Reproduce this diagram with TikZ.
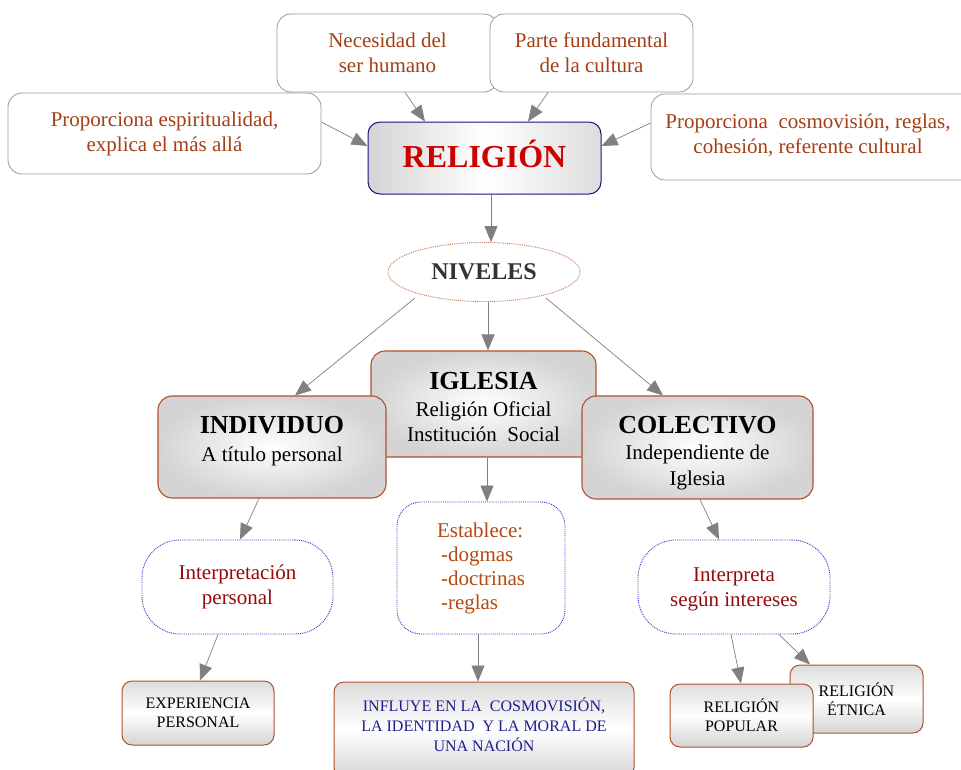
\documentclass[tikz,border=0pt]{standalone}
\usepackage{fontspec}
\setmainfont{Liberation Serif}
\usetikzlibrary{arrows.meta,shapes.geometric}

\definecolor{rust}{RGB}{165,62,20}
\definecolor{relred}{RGB}{204,0,0}
\definecolor{darkred}{RGB}{150,10,10}
\definecolor{orangebrown}{RGB}{178,74,18}
\definecolor{navytext}{RGB}{30,30,140}
\definecolor{navyline}{RGB}{20,20,130}
\definecolor{boxbrown}{RGB}{176,82,40}
\definecolor{dotblue}{RGB}{55,55,195}
\definecolor{arrowgray}{RGB}{128,128,128}
\definecolor{shadegray}{RGB}{212,212,212}

\newcommand{\fsz}[2]{\fontsize{#1}{#2}\selectfont}

\tikzset{
  topbox/.style={draw=gray!80, line width=0.8pt, rounded corners=14pt, fill=white,
    inner sep=0pt, align=center, text=rust, font=\fsz{21}{25}},
  mainbox/.style={draw=navyline, line width=1pt, rounded corners=12pt,
    left color=shadegray, right color=shadegray!80, middle color=white, inner sep=0pt},
  levelbox/.style={draw=boxbrown, line width=1.1pt, rounded corners=14pt,
    inner color=white, outer color=shadegray, inner sep=0pt},
  dotbox/.style={draw=dotblue, densely dotted, line width=0.9pt, inner sep=0pt,
    fill=white, align=center, font=\fsz{21}{25}},
  smallbox/.style={draw=boxbrown, line width=1pt, rounded corners=10pt,
    top color=shadegray!80, bottom color=shadegray, middle color=white,
    inner sep=0pt, align=center, font=\fsz{16}{19}},
  boxtext/.style={inner sep=0pt, align=center, font=\fsz{21}{25}},
  arr/.style={draw=arrowgray, line width=0.7pt,
    -{Triangle[length=16pt,width=13pt,fill=arrowgray]}},
  head/.style={font=\bfseries\fsz{26}{30}}
}

\begin{document}
\begin{tikzpicture}[x=1pt,y=-1pt]
\clip (0,0) rectangle (961,769);
\fill[white] (0,0) rectangle (961,769);

% top row of feeding ideas
\node[topbox, minimum width=221pt, minimum height=78pt] (nec) at (387.5,53)
  {Necesidad del\\ser humano};
\node[topbox, minimum width=203pt, minimum height=78pt] (parte) at (591.5,53)
  {Parte fundamental\\de la cultura};
\node[topbox, minimum width=313pt, minimum height=81pt] (espi) at (164.5,133.5)
  {Proporciona espiritualidad,\\explica el más allá};
\node[topbox, minimum width=339pt, minimum height=86pt] (cosmo) at (820.5,137) {};
\node[boxtext, text=rust] (cosmoT) at (808,135)
  {Proporciona\ \ cosmovisión, reglas,\\cohesión, referente cultural};

% central concept
\node[mainbox, minimum width=233pt, minimum height=72pt] (rel) at (484.5,158) {};
\node[inner sep=0pt, text=relred, font=\bfseries\fsz{32}{36}] (relT) at (484.5,154) {RELIGIÓN};

% levels
\node[ellipse, draw=boxbrown!80, densely dotted, line width=0.9pt, fill=white,
  minimum width=192pt, minimum height=59pt, inner sep=0pt,
  text=black!80, font=\bfseries\fsz{24}{28}] (niv) at (484,272) {NIVELES};

\node[levelbox, minimum width=225pt, minimum height=106pt] (igl) at (483.5,404) {};
\node[boxtext] (iglT) at (483.5,406.5)
  {{\bfseries\fsz{26}{29}IGLESIA}\\[2pt]Religión Oficial\\Institución\ \ Social};
\node[levelbox, minimum width=228pt, minimum height=102pt] (ind) at (272,447) {};
\node[boxtext] (indT) at (272,441.5)
  {{\bfseries\fsz{26}{29}INDIVIDUO}\\[3pt]A título personal};
\node[levelbox, minimum width=231pt, minimum height=103pt] (col) at (697.5,447.5) {};
\node[boxtext] (colT) at (697.5,453)
  {{\bfseries\fsz{26}{29}COLECTIVO}\\[1pt]Independiente de\\[1pt]Iglesia};

% what each level does
\node[dotbox, rounded corners=38pt, minimum width=191pt, minimum height=94pt,
  text=darkred] (inp) at (237.5,587) {Interpretación\\personal};
\node[dotbox, rounded corners=24pt, minimum width=168pt, minimum height=132pt,
  text=orangebrown] (est) at (481,568)
  {\begin{tabular}{@{}l@{}}Establece:\\[-1pt]\hspace*{4pt}-dogmas\\[-1pt]\hspace*{4pt}-doctrinas\\[-1pt]\hspace*{4pt}-reglas\end{tabular}};
\node[dotbox, rounded corners=38pt, minimum width=192pt, minimum height=94pt] (intr) at (734,587) {};
\node[boxtext, text=darkred] (intrT) at (734,589.5) {Interpreta\\según intereses};

% outcomes
\node[smallbox, minimum width=152pt, minimum height=64pt] (exp) at (198,713)
  {EXPERIENCIA\\PERSONAL};
\node[smallbox, minimum width=300pt, minimum height=96pt] (inf) at (484,730) {};
\node[align=center, text=navytext, font=\fsz{16}{20}, inner sep=0pt]
  (infT) at (484,725) {INFLUYE EN LA\ \ COSMOVISIÓN,\\LA IDENTIDAD\ \ Y LA MORAL DE\\UNA NACIÓN};
\node[smallbox, minimum width=133pt, minimum height=68pt] (etn) at (856.5,699)
  {RELIGIÓN\\ÉTNICA};
\node[smallbox, minimum width=143pt, minimum height=63pt] (pop) at (741.5,715.5)
  {RELIGIÓN\\POPULAR};

% connectors
\draw[arr] ([xshift=17.5pt]nec.south) -- ([xshift=-59.5pt]rel.north);
\draw[arr] ([xshift=-43.5pt]parte.south) -- ([xshift=43.5pt]rel.north);
\draw[arr] ([yshift=11.5pt]espi.east) -- ([yshift=12pt]rel.west);
\draw[arr] ([yshift=14pt]cosmo.west) -- ([yshift=12pt]rel.east);
\draw[arr] ([xshift=6.5pt]rel.south) -- ([xshift=7pt]niv.north);
\draw[arr] ([xshift=-69pt,yshift=-26pt]niv.center) -- ([xshift=23pt]ind.north);
\draw[arr] ([xshift=4pt]niv.south) -- ([xshift=4.5pt]igl.north);
\draw[arr] ([xshift=62pt,yshift=-26pt]niv.center) -- ([xshift=-34.5pt]col.north);
\draw[arr] ([xshift=3.5pt]igl.south) -- ([xshift=6pt]est.north);
\draw[arr] ([xshift=-13pt]ind.south) -- ([xshift=2.5pt]inp.north);
\draw[arr] ([xshift=2.5pt]col.south) -- ([xshift=-15pt]intr.north);
\draw[arr] ([xshift=-19.5pt]inp.south) -- ([xshift=2pt]exp.north);
\draw[arr] ([xshift=-3pt]est.south) -- ([xshift=-6pt]inf.north);
\draw[arr] ([xshift=-3pt]intr.south) -- ([xshift=-0.5pt]pop.north);
\draw[arr] ([xshift=45pt]intr.south) -- ([xshift=-46.5pt]etn.north);
\end{tikzpicture}
\end{document}
